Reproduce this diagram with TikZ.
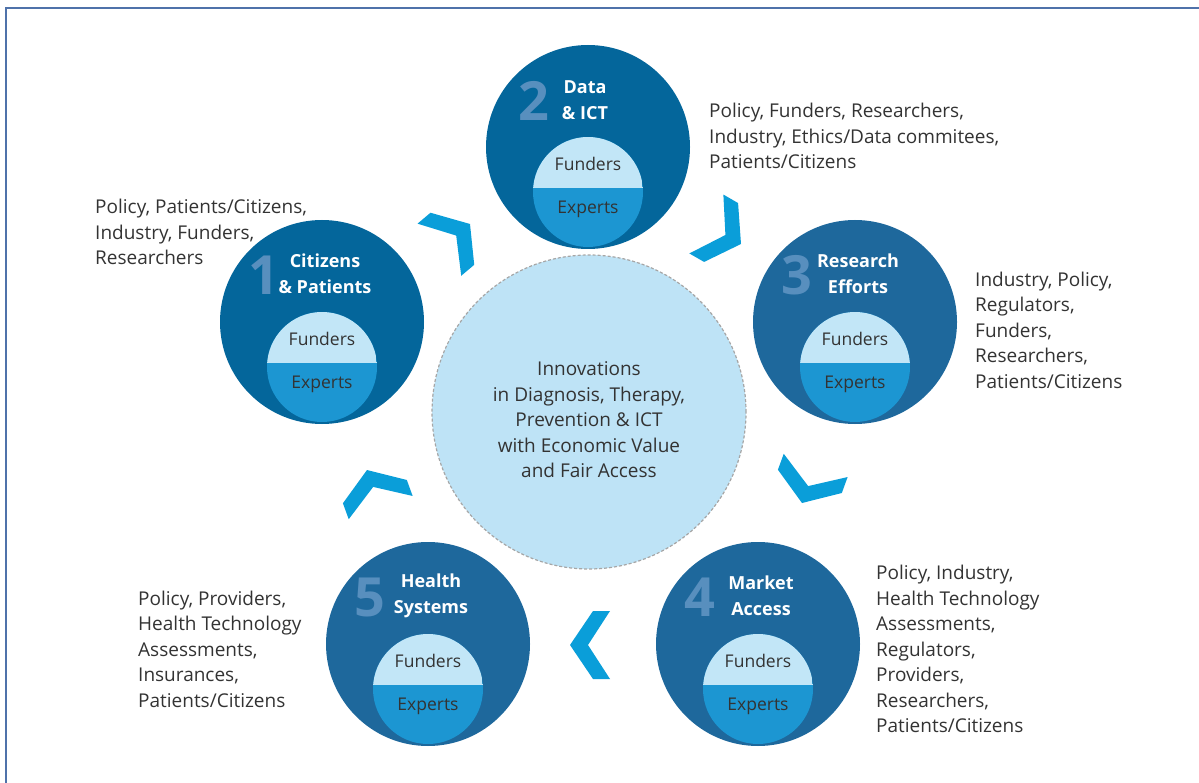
\documentclass[tikz,border=0pt]{standalone}
\usepackage{fontspec}
\setmainfont{Open Sans}
\usepackage{tikz}
\usetikzlibrary{calc}

\definecolor{hubdark}{RGB}{4,102,155}
\definecolor{hubmid}{RGB}{30,104,156}
\definecolor{funderblue}{RGB}{194,230,247}
\definecolor{expertblue}{RGB}{28,150,210}
\definecolor{chevblue}{RGB}{10,158,217}
\definecolor{corefill}{RGB}{190,227,246}
\definecolor{numblue}{RGB}{88,143,190}
\definecolor{txtgray}{RGB}{51,51,51}
\definecolor{framebl}{RGB}{79,114,170}

\begin{document}
\begin{tikzpicture}[
    x=1pt, y=-1pt,
    hub/.style={circle, minimum size=204pt, inner sep=0pt},
    innerdisc/.style={circle, minimum size=110pt, inner sep=0pt, fill=expertblue,
        path picture={\fill[funderblue] ([yshift=4pt]path picture bounding box.west) rectangle (path picture bounding box.north east);}},
    rolebox/.style={inner sep=0pt, text=txtgray, font=\fontsize{17.5}{20}\selectfont},
    hubtitle/.style={inner sep=0pt, align=center, text=white, font=\bfseries\fontsize{18}{26}\selectfont},
    hubnum/.style={inner sep=0pt, text=numblue, font=\bfseries\fontsize{54}{54}\selectfont},
    actors/.style={inner sep=0pt, anchor=west, align=left, text=txtgray, font=\fontsize{19}{25.5}\selectfont},
    chevron/.pic={\fill[chevblue] (0,0) -- (-23,34) -- (-40,34) -- (-18,0) -- (-40,-34) -- (-23,-34) -- cycle;},
]
\useasboundingbox (0,0) rectangle (1199,783);

% === FRAME ===
\draw[framebl, line width=2.5pt] (1199,8) -- (6,8) -- (6,783);

% === CENTRE ===
\node[circle, minimum size=314pt, fill=corefill, draw=gray!70, line width=1.2pt, dash pattern=on 3pt off 2pt] (core) at (589,412) {};
\node[align=center, text=txtgray, font=\fontsize{19}{25.5}\selectfont] (core-text) at (589,420)
    {Innovations\\in Diagnosis, Therapy,\\Prevention \& ICT\\with Economic Value\\and Fair Access};

% === 1: CITIZENS & PATIENTS ===
\node[hub, fill=hubdark] (cit) at (322,322) {};
\node[innerdisc] (cit-in) at (322,367) {};
\node[rolebox] (cit-fund) at (322,339) {Funders};
\node[rolebox] (cit-exp) at (322,384) {Experts};
\node[hubnum] (cit-num) at (264,275) {1};
\node[hubtitle] (cit-title) at (325,274) {Citizens\\\& Patients};
\node[actors] (cit-actors) at (95,232) {Policy, Patients/Citizens,\\Industry, Funders,\\Researchers};

% === 2: DATA & ICT ===
\node[hub, fill=hubdark] (ict) at (588,147) {};
\node[innerdisc] (ict-in) at (588,192) {};
\node[rolebox] (ict-fund) at (588,164) {Funders};
\node[rolebox] (ict-exp) at (588,209) {Experts};
\node[hubnum] (ict-num) at (534,101) {2};
\node[hubtitle] (ict-title) at (585,100) {Data\\\& ICT};
\node[actors] (ict-actors) at (709,136) {Policy, Funders, Researchers,\\Industry, Ethics/Data commitees,\\Patients/Citizens};

% === 3: RESEARCH EFFORTS ===
\node[hub, fill=hubmid] (res) at (855,322) {};
\node[innerdisc] (res-in) at (855,367) {};
\node[rolebox] (res-fund) at (855,339) {Funders};
\node[rolebox] (res-exp) at (855,384) {Experts};
\node[hubnum] (res-num) at (797,275) {3};
\node[hubtitle] (res-title) at (858,274) {Research\\Efforts};
\node[actors] (res-actors) at (975,330) {Industry, Policy,\\Regulators,\\Funders,\\Researchers,\\Patients/Citizens};

% === 4: MARKET ACCESS ===
\node[hub, fill=hubmid] (mkt) at (758,644) {};
\node[innerdisc] (mkt-in) at (758,689) {};
\node[rolebox] (mkt-fund) at (758,661) {Funders};
\node[rolebox] (mkt-exp) at (758,706) {Experts};
\node[hubnum] (mkt-num) at (700,597) {4};
\node[hubtitle] (mkt-title) at (761,596) {Market\\Access};
\node[actors] (mkt-actors) at (876,649) {Policy, Industry,\\Health Technology\\Assessments,\\Regulators,\\Providers,\\Researchers,\\Patients/Citizens};

% === 5: HEALTH SYSTEMS ===
\node[hub, fill=hubmid] (hs) at (428,644) {};
\node[innerdisc] (hs-in) at (428,689) {};
\node[rolebox] (hs-fund) at (428,661) {Funders};
\node[rolebox] (hs-exp) at (428,706) {Experts};
\node[hubnum] (hs-num) at (370,597) {5};
\node[hubtitle] (hs-title) at (431,596) {Health\\Systems};
\node[actors] (hs-actors) at (138,649) {Policy, Providers,\\Health Technology\\Assessments,\\Insurances,\\Patients/Citizens};

% === CYCLE CHEVRONS ===
\pic[rotate=40] (chev12) at (470,224) {chevron};
\pic[rotate=-30] (chev23) at (741,244) {chevron};
\pic[rotate=-110] (chev34) at (802,503) {chevron};
\pic[rotate=180] (chev45) at (570,645) {chevron};
\pic[rotate=110] (chev51) at (367,470) {chevron};

\end{tikzpicture}
\end{document}
